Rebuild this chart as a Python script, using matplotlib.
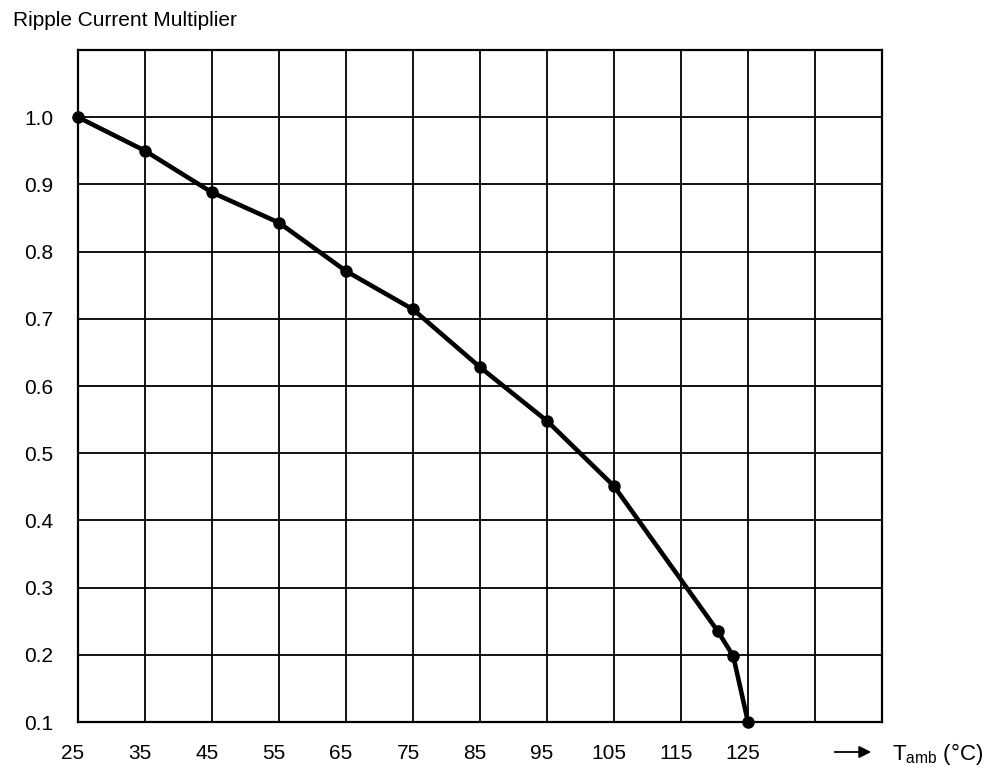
import matplotlib.pyplot as plt
from matplotlib.transforms import ScaledTranslation

plt.rcParams['font.family'] = ['Liberation Sans', 'DejaVu Sans']
plt.rcParams['mathtext.fontset'] = 'custom'
plt.rcParams['mathtext.rm'] = 'Liberation Sans'

# ambient temperature (degC) and ripple current multiplier
temp = [25, 35, 45, 55, 65, 75, 85, 95, 105, 120.5, 122.8, 125]
mult = [1.0, 0.95, 0.888, 0.843, 0.771, 0.714, 0.628, 0.548, 0.451, 0.235, 0.198, 0.1]

xticks = [25, 35, 45, 55, 65, 75, 85, 95, 105, 115, 125]
yticks = [0.1, 0.2, 0.3, 0.4, 0.5, 0.6, 0.7, 0.8, 0.9, 1.0]

fig = plt.figure(figsize=(9.92, 7.69), dpi=100)
ax = fig.add_axes([78/992, 1 - 722/769, (882-78)/992, (722-50)/769])

# grid every 10 degC / 0.1
for xv in range(25, 146, 10):
    ax.axvline(xv, color='black', lw=1.3, zorder=1)
for i in range(11):
    ax.axhline(0.1 + i*0.1, color='black', lw=1.3, zorder=1)

ax.plot(temp, mult, color='black', lw=3.3, marker='o', markersize=8,
        zorder=3, clip_on=False)

ax.set_xlim(25, 145)
ax.set_ylim(0.1, 1.1)
ax.set_xticks(xticks)
ax.set_xticklabels([str(t) for t in xticks])
ax.set_yticks(yticks)
ax.set_yticklabels(['%.1f' % v for v in yticks])
ax.tick_params(length=0, labelsize=15)
ax.tick_params(axis='x', pad=16)
ax.tick_params(axis='y', pad=18)
shift = ScaledTranslation(-5/100, 0, fig.dpi_scale_trans)
for lab in ax.get_xticklabels():
    lab.set_transform(lab.get_transform() + shift)

for s in ax.spines.values():
    s.set_linewidth(1.6)
    s.set_color('black')

fig.text(13/992, 1 - 20/769, 'Ripple Current Multiplier', fontsize=15,
         ha='left', va='center')

ax.annotate('', xy=(874/992, 1 - 752/769), xytext=(832/992, 1 - 752/769),
            xycoords='figure fraction', textcoords='figure fraction',
            arrowprops=dict(arrowstyle='-|>', color='black', lw=1.3,
                            mutation_scale=18))
fig.text(892/992, 1 - 754/769, r'$\mathrm{T_{amb}}$ (°C)', fontsize=16,
         ha='left', va='center')

fig.savefig('out.png', dpi=100)
